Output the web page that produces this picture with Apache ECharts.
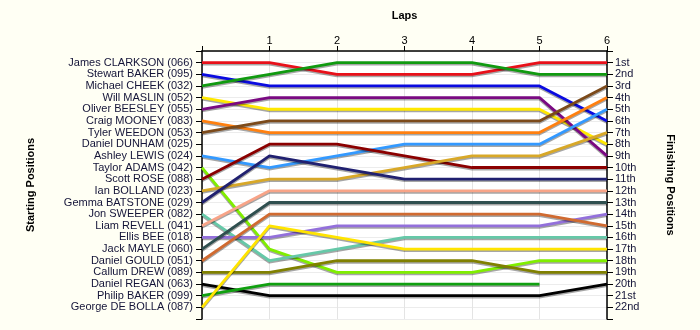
<!DOCTYPE html>
<html>
<head>
<meta charset="utf-8">
<script src="https://cdn.jsdelivr.net/npm/echarts@6/dist/echarts.min.js"></script>
<style>
html,body{margin:0;padding:0;background:#fffff4;}
#chart{width:700px;height:330px;}
</style>
</head>
<body>
<div id="chart"></div>
<script>
const laps = [0, 1, 2, 3, 4, 5, 6];
const startingNames = [
  'James CLARKSON (066)', 'Stewart BAKER (095)', 'Michael CHEEK (032)', 'Will MASLIN (052)',
  'Oliver BEESLEY (055)', 'Craig MOONEY (083)', 'Tyler WEEDON (053)', 'Daniel DUNHAM (025)',
  'Ashley LEWIS (024)', 'Taylor ADAMS (042)', 'Scott ROSE (088)', 'Ian BOLLAND (023)',
  'Gemma BATSTONE (029)', 'Jon SWEEPER (082)', 'Liam REVELL (041)', 'Ellis BEE (018)',
  'Jack MAYLE (060)', 'Daniel GOULD (051)', 'Callum DREW (089)', 'Daniel REGAN (063)',
  'Philip BAKER (099)', 'George DE BOLLA (087)'
];
const finishLabels = ['1st','2nd','3rd','4th','5th','6th','7th','8th','9th','10th','11th',
  '12th','13th','14th','15th','16th','17th','18th','19th','20th','21st','22nd'];

// positions per lap (lap 0..6), null = no data
const posClarkson = [1, 1, 2, 2, 2, 1, 1];
const posSBaker   = [2, 3, 3, 3, 3, 3, 6];
const posCheek    = [3, 2, 1, 1, 1, 2, 2];
const posMaslin   = [4, 5, 5, 5, 5, 5, 8];
const posBeesley  = [5, 4, 4, 4, 4, 4, 9];
const posMooney   = [6, 7, 7, 7, 7, 7, 4];
const posWeedon   = [7, 6, 6, 6, 6, 6, 3];
const posLewis    = [9, 10, 9, 8, 8, 8, 5];
const posAdams    = [10, 17, 19, 19, 19, 18, 18];
const posRose     = [11, 8, 8, 9, 10, 10, 10];
const posBolland  = [12, 11, 11, 10, 9, 9, 7];
const posBatstone = [13, 9, 10, 11, 11, 11, 11];
const posSweeper  = [14, 18, 17, 16, 16, 16, 16];
const posRevell   = [15, 12, 12, 12, 12, 12, 12];
const posBee      = [16, 16, 15, 15, 15, 15, 14];
const posMayle    = [17, 13, 13, 13, 13, 13, 13];
const posGould    = [18, 14, 14, 14, 14, 14, 15];
const posDrew     = [19, 19, 18, 18, 18, 19, 19];
const posRegan    = [20, 21, 21, 21, 21, 21, 20];
const posPBaker   = [21, 20, 20, 20, 20, 20, null];
const posDeBolla  = [22, 15, 16, 17, 17, 17, 17];

const driverSeries = [
  ['James CLARKSON (066)', posClarkson, '#e8101a'],
  ['Stewart BAKER (095)', posSBaker, '#0a0ae0'],
  ['Michael CHEEK (032)', posCheek, '#109a10'],
  ['Will MASLIN (052)', posMaslin, '#ffe800'],
  ['Oliver BEESLEY (055)', posBeesley, '#7a0a82'],
  ['Craig MOONEY (083)', posMooney, '#ff8010'],
  ['Tyler WEEDON (053)', posWeedon, '#7c4a1a'],
  ['Ashley LEWIS (024)', posLewis, '#3399ff'],
  ['Taylor ADAMS (042)', posAdams, '#80ee00'],
  ['Scott ROSE (088)', posRose, '#8b0000'],
  ['Ian BOLLAND (023)', posBolland, '#d8a828'],
  ['Gemma BATSTONE (029)', posBatstone, '#202070'],
  ['Jon SWEEPER (082)', posSweeper, '#66c8a8'],
  ['Liam REVELL (041)', posRevell, '#f8a488'],
  ['Ellis BEE (018)', posBee, '#9370db'],
  ['Jack MAYLE (060)', posMayle, '#2f4f4f'],
  ['Daniel GOULD (051)', posGould, '#d06a30'],
  ['Callum DREW (089)', posDrew, '#808000'],
  ['Daniel REGAN (063)', posRegan, '#000000'],
  ['Philip BAKER (099)', posPBaker, '#10a010'],
  ['George DE BOLLA (087)', posDeBolla, '#ffe400']
];

const txt = '#141438';
const font = 'Arial, "Liberation Sans", sans-serif';

const series = driverSeries.map(([name, vals, color]) => ({
  name: name,
  type: 'line',
  symbol: 'none',
  silent: true,
  connectNulls: false,
  data: laps.map((l, i) => vals[i] == null ? [l, null] : [l, vals[i]]),
  lineStyle: {
    color: color, width: 2.8,
    shadowColor: 'rgba(0,0,0,0.35)', shadowBlur: 0, shadowOffsetY: 1.5
  },
  itemStyle: { color: color },
  animation: false
}));

const chart = echarts.init(document.getElementById('chart'));
chart.setOption({
  backgroundColor: '#fffff4',
  animation: false,
  grid: { left: 202, right: 93, top: 51, bottom: 11, show: true, backgroundColor: '#ffffff', borderWidth: 0,
    containLabel: false, outerBoundsMode: 'none' },
  xAxis: {
    type: 'value', position: 'top', min: 0, max: 6, interval: 1,
    name: 'Laps', nameLocation: 'middle', nameGap: 30,
    nameTextStyle: { fontFamily: font, fontSize: 11, fontWeight: 'bold', color: '#000' },
    axisLine: { show: true, onZero: false, lineStyle: { color: '#000', width: 1.5 } },
    axisTick: { show: true, inside: false, length: 5, lineStyle: { color: '#000', width: 1 } },
    axisLabel: { fontFamily: font, fontSize: 11, color: '#000', margin: 5,
      formatter: v => v === 0 ? '' : String(v) },
    splitLine: { show: true, lineStyle: { color: '#e4e4e4', width: 1 } }
  },
  yAxis: [
    {
      type: 'value', position: 'left', inverse: true, min: 0, max: 23, interval: 1,
      name: 'Starting Positions', nameLocation: 'middle', nameGap: 166, nameRotate: 90,
      nameTextStyle: { fontFamily: font, fontSize: 11, fontWeight: 'bold', color: '#000' },
      axisLine: { show: true, onZero: false, lineStyle: { color: '#000', width: 1.5 } },
      axisTick: { show: true, length: 6, lineStyle: { color: '#000', width: 1 } },
      axisLabel: { fontFamily: font, fontSize: 11, color: txt, margin: 9,
        formatter: v => (v >= 1 && v <= 22) ? startingNames[v - 1] : '' },
      splitLine: { show: true, lineStyle: { color: '#ececec', width: 1 } }
    },
    {
      type: 'value', position: 'right', inverse: true, min: 0, max: 23, interval: 1,
      name: 'Finishing Positions', nameLocation: 'middle', nameGap: 58, nameRotate: -90,
      nameTextStyle: { fontFamily: font, fontSize: 11, fontWeight: 'bold', color: '#000' },
      axisLine: { show: true, onZero: false, lineStyle: { color: '#000', width: 1.5 } },
      axisTick: { show: true, length: 6, lineStyle: { color: '#000', width: 1 } },
      axisLabel: { fontFamily: font, fontSize: 11, color: txt, margin: 8,
        formatter: v => (v >= 1 && v <= 22) ? finishLabels[v - 1] : '' },
      splitLine: { show: false }
    }
  ],
  series: series
});
</script>
</body>
</html>
